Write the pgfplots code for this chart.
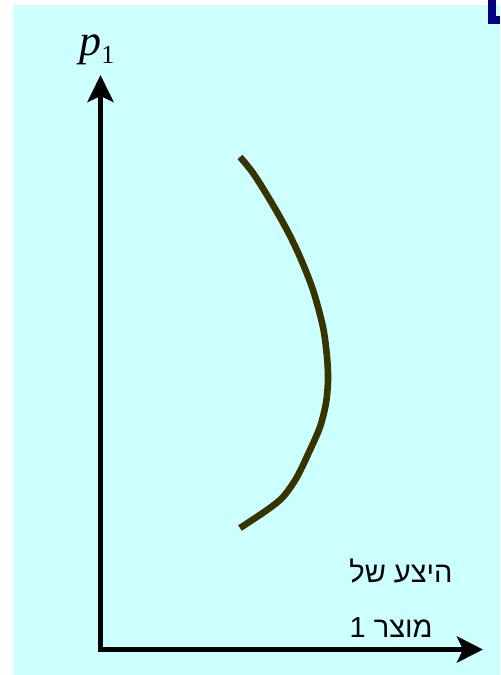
\documentclass[border=0pt]{standalone}
\usepackage{pgfplots}
\pgfplotsset{compat=1.18}
\usetikzlibrary{arrows.meta}
\usepackage{fontspec}
\setmainfont{Liberation Serif}
\newfontfamily\hebfont[Script=Hebrew]{Liberation Sans}
\TeXXeTstate=1
\definecolor{bgcyan}{RGB}{204,255,255}
\definecolor{curvecol}{RGB}{56,52,0}
\definecolor{navyc}{RGB}{0,0,128}
\begin{document}
\begin{tikzpicture}
\begin{axis}[
  scale only axis, width=250pt, height=337.5pt,
  xmin=0, xmax=500, ymin=0, ymax=675, y dir=reverse,
  hide axis, clip=false]
% background
\fill[white] (axis cs:0,0) rectangle (axis cs:500,675);
\fill[bgcyan] (axis cs:13,5) rectangle (axis cs:500,675);
\fill[navyc] (axis cs:488,0) rectangle (axis cs:496,24);
\fill[navyc] (axis cs:488,16) rectangle (axis cs:500,24);
% axes
\addplot[black, line width=2.6pt, line join=miter,
  {Stealth[length=13.5pt,width=13pt,inset=3pt]}-{Stealth[length=13pt,width=13pt,inset=3pt]}]
  coordinates {(100.5,75) (100.5,649.5) (483,649.5)};
% curve
\addplot[curvecol, line width=3.3pt, smooth, tension=0.5] coordinates {
(240,157) (253,173) (270,200) (287,230) (300,257) (313,290) (323,327)
(327,357) (328,380) (326,403) (320,427) (310,450) (297,477) (283,497)
(267,510) (240,528)};
% labels
\node[anchor=base west, inner sep=0pt] at (axis cs:79,55)
  {\fontsize{22}{22}\selectfont\textit{p}\raisebox{-4pt}{\fontsize{13}{13}\selectfont 1}};
\node[anchor=base east, inner sep=0pt] at (axis cs:453,582)
  {\hebfont\fontsize{14.5}{14.5}\selectfont\beginR היצע של\endR};
\node[anchor=base east, inner sep=0pt] at (axis cs:433,637)
  {\hebfont\fontsize{14.5}{14.5}\selectfont\beginR מוצר 1\endR};
\end{axis}
\end{tikzpicture}
\end{document}
